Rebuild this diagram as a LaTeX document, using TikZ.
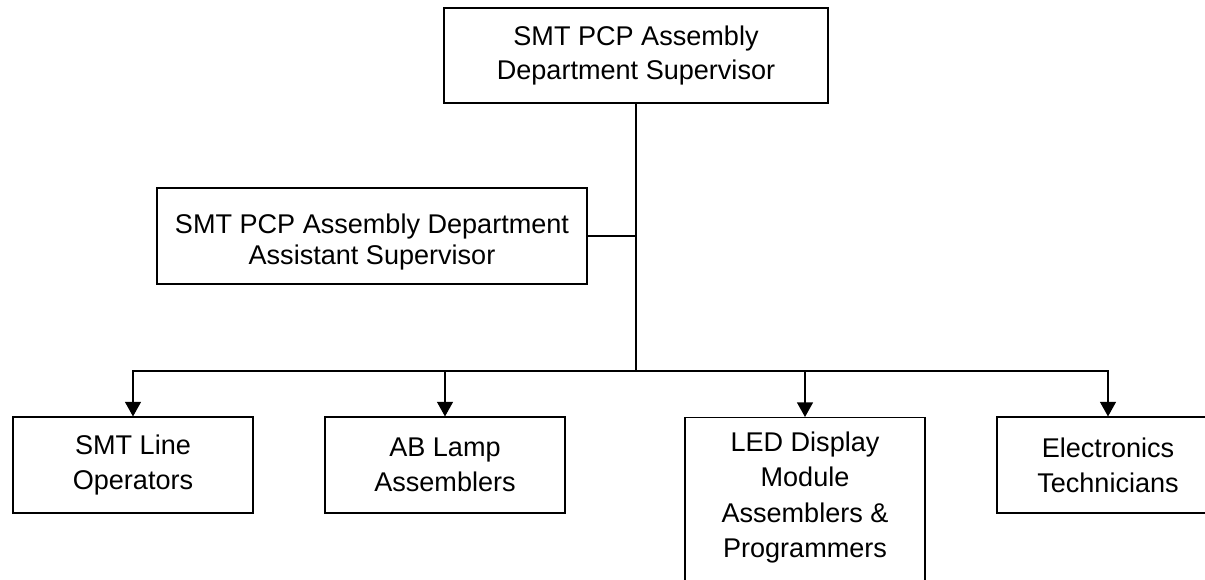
\documentclass[tikz,border=0pt]{standalone}
\usepackage{fontspec}
\setmainfont{Liberation Sans}
\usetikzlibrary{arrows.meta}
\tikzset{
  box/.style={draw=black, line width=0.8pt, fill=white, inner sep=0pt, align=center,
    font=\fontsize{20.3}{26}\selectfont},
  txt/.style={inner sep=0pt, align=center, font=\fontsize{20.3}{26.3}\selectfont},
  conn/.style={draw=black, line width=1pt},
  arr/.style={conn, -{Triangle[width=12pt,length=11pt]}}
}
\begin{document}
\begin{tikzpicture}[x=0.75pt, y=-0.75pt]
\useasboundingbox (0,0) rectangle (1205,579);
\fill[white] (0,0) rectangle (1205,579);
\clip (0,0) rectangle (1205,579);
% nodes
\node[box, minimum width=288pt, minimum height=71.25pt, font=\fontsize{20.3}{24.8}\selectfont] (top) at (636,55.5)
  {SMT PCP Assembly\\Department Supervisor};
\node[box, minimum width=322.5pt, minimum height=72pt] (asst) at (372,236) {};
\node[txt, font=\fontsize{20.3}{22.8}\selectfont] (assttxt) at (372,242)
  {SMT PCP Assembly Department\\Assistant Supervisor};
\node[box, minimum width=180pt, minimum height=72pt] (smt) at (133,465)
  {SMT Line\\Operators};
\node[box, minimum width=180pt, minimum height=72pt] (ab) at (445,465)
  {AB Lamp\\Assemblers};
\node[box, minimum width=180pt, minimum height=135pt, anchor=north] (led) at (805,417) {};
\node[txt] (ledtxt) at (805,497.5)
  {LED Display\\Module\\Assemblers \&\\Programmers};
\node[box, minimum width=166.5pt, minimum height=72pt] (el) at (1108,465)
  {Electronics\\Technicians};
% connectors
\coordinate (j) at (636,371);
\draw[conn] (top.south) -- (j);
\draw[conn] (asst.east) -- (asst.east -| top.south);
\draw[arr] (j) -| (smt.north);
\draw[arr] (j) -| (ab.north);
\draw[arr] (j) -| (led.north);
\draw[arr] (j) -| (el.north);
\end{tikzpicture}
\end{document}
